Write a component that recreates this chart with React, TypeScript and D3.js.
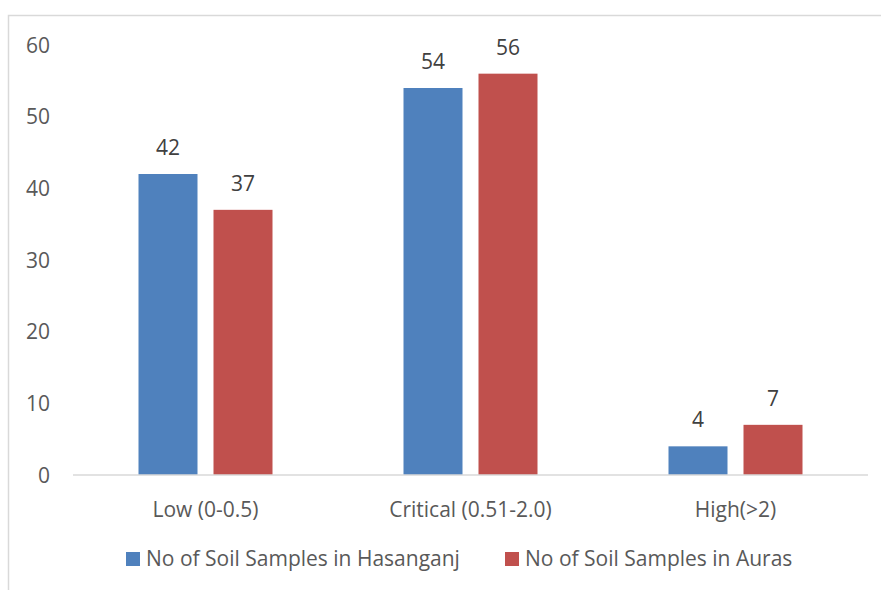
import * as d3 from "d3";

const categories = ["Low (0-0.5)", "Critical (0.51-2.0)", "High(>2)"];
const hasanganj = [42, 54, 4];
const auras = [37, 56, 7];
const seriesNames = ["No of Soil Samples in Hasanganj", "No of Soil Samples in Auras"];
const yTicks = [0, 10, 20, 30, 40, 50, 60];

const colors = ["#4F81BD", "#C0504D"];
const font = "'Open Sans', 'Noto Sans', sans-serif";
const textColor = "#595959";

export default function App() {
  const width = 881;
  const height = 590;
  const left = 73;
  const right = 868;
  const baseline = 475;

  const x = d3.scaleBand().domain(categories).range([left, right]);
  const y = d3.scaleLinear().domain([0, 60]).range([baseline, 45]);

  const barW = 59;
  const gap = 16;
  const series = [hasanganj, auras];
  const legendX = [126, 505];

  return (
    <svg
      width={width}
      height={height}
      style={{ position: "absolute", left: 0, top: 0, background: "#fff" }}
      fontFamily={font}
    >
      {/* chart frame */}
      <rect x={8.5} y={15.5} width={width} height={height} fill="none" stroke="#d9d9d9" strokeWidth={1.5} />

      {yTicks.map((t) => (
        <text key={t} x={50} y={y(t)} dy="0.36em" textAnchor="end" fontSize={21} fill={textColor}>
          {t}
        </text>
      ))}

      {series.map((vals, si) =>
        vals.map((v, ci) => {
          const cx = (x(categories[ci]) ?? 0) + x.bandwidth() / 2;
          const bx = si === 0 ? cx - gap / 2 - barW : cx + gap / 2;
          return (
            <g key={`${si}-${ci}`}>
              <rect x={bx} y={y(v)} width={barW} height={baseline - y(v)} fill={colors[si]} />
              <text x={bx + barW / 2} y={y(v) - 19} textAnchor="middle" fontSize={21} fill="#404040">
                {v}
              </text>
            </g>
          );
        })
      )}

      <line x1={left} x2={right} y1={baseline} y2={baseline} stroke="#d9d9d9" strokeWidth={1.5} />

      {categories.map((c) => (
        <text key={c} x={(x(c) ?? 0) + x.bandwidth() / 2} y={509} dy="0.36em" textAnchor="middle" fontSize={21} fill={textColor}>
          {c}
        </text>
      ))}

      {seriesNames.map((name, i) => (
        <g key={name}>
          <rect x={legendX[i]} y={552} width={14} height={14} fill={colors[i]} />
          <text x={legendX[i] + 20} y={558.5} dy="0.36em" fontSize={21} fill={textColor}>
            {name}
          </text>
        </g>
      ))}
    </svg>
  );
}
